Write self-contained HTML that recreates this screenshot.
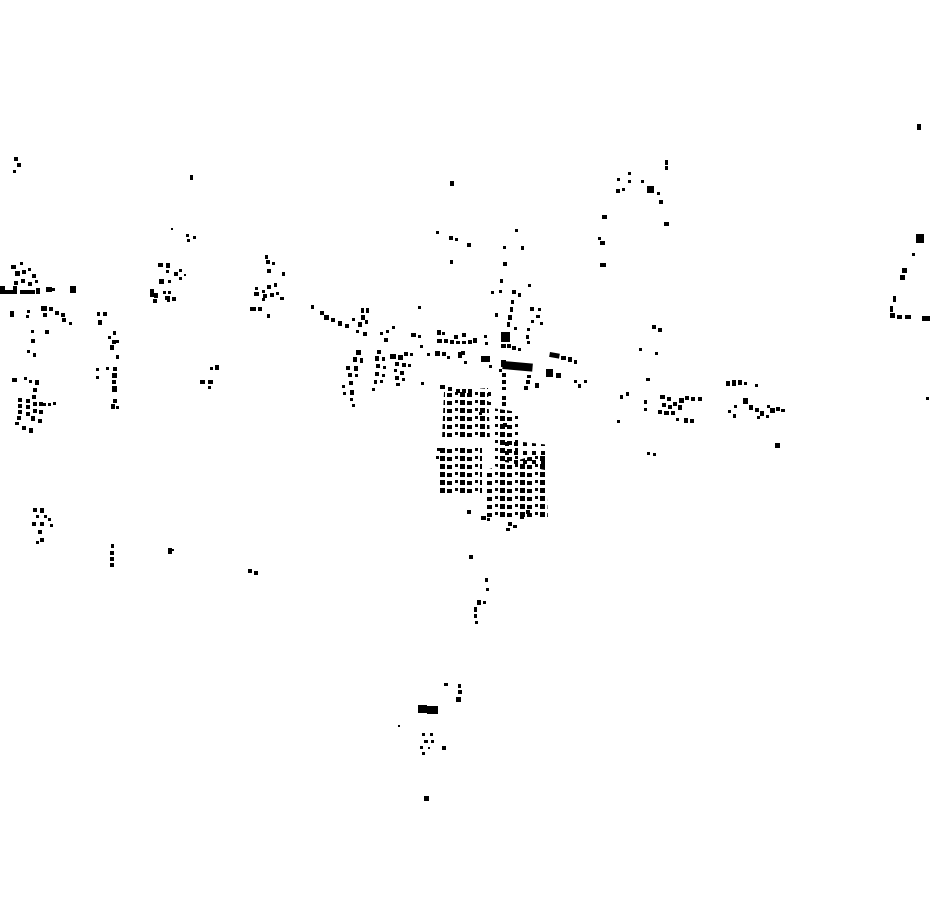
<!DOCTYPE html>
<html><head><meta charset="utf-8"><style>html,body{margin:0;padding:0;background:#fff}svg{display:block}</style></head>
<body>
<svg width="930" height="924" viewBox="0 0 930 924" xmlns="http://www.w3.org/2000/svg">
<defs>
<pattern id="g" width="20" height="8" patternUnits="userSpaceOnUse"><rect x="0" y="0" width="5" height="5" fill="#000"/><rect x="7" y="1" width="5" height="4" fill="#000"/><rect x="15" y="0" width="3" height="3" fill="#000"/></pattern>
<pattern id="g2" width="9" height="9" patternUnits="userSpaceOnUse"><rect x="1" y="1" width="4" height="4" fill="#000"/></pattern>
</defs>
<g fill="url(#g)">
<polygon points="444,392 488,388 490,440 442,440"/>
<polygon points="492,408 518,412 520,470 493,466"/>
<polygon points="438,448 482,446 482,496 440,496"/>
<polygon points="486,470 545,452 548,520 486,520"/>
</g>
<g fill="url(#g2)">
<polygon points="505,440 550,445 545,470 505,462"/>
</g>
<g fill="#000">
<rect x="14" y="157" width="4" height="4"/><rect x="17" y="163" width="4" height="4"/><rect x="13" y="170" width="3" height="3"/>
<rect x="190" y="175" width="3" height="5"/>
<rect x="11" y="265" width="5" height="4"/><rect x="20" y="262" width="3" height="3"/><rect x="15" y="271" width="5" height="5"/><rect x="22" y="270" width="4" height="4"/><rect x="28" y="268" width="3" height="3"/><rect x="32" y="274" width="4" height="4"/><rect x="21" y="279" width="4" height="4"/><rect x="28" y="282" width="4" height="4"/><rect x="35" y="280" width="3" height="3"/><rect x="14" y="281" width="4" height="4"/>
<rect x="0" y="286" width="5" height="8"/><rect x="5" y="290" width="12" height="4"/><rect x="13" y="286" width="4" height="4"/>
<rect x="20" y="290" width="15" height="4"/><rect x="36" y="288" width="4" height="6"/><rect x="46" y="287" width="6" height="5"/><rect x="52" y="288" width="3" height="3"/><rect x="70" y="286" width="6" height="7"/>
<rect x="10" y="311" width="4" height="6"/><rect x="27" y="310" width="3" height="3"/><rect x="26" y="315" width="3" height="3"/><rect x="41" y="306" width="6" height="5"/><rect x="49" y="307" width="4" height="4"/><rect x="43" y="313" width="4" height="4"/><rect x="55" y="311" width="4" height="4"/><rect x="61" y="313" width="4" height="4"/><rect x="62" y="318" width="4" height="4"/><rect x="69" y="322" width="3" height="3"/>
<rect x="31" y="330" width="3" height="3"/><rect x="45" y="330" width="4" height="4"/><rect x="31" y="339" width="4" height="4"/><rect x="27" y="350" width="3" height="3"/><rect x="33" y="353" width="3" height="4"/>
<rect x="12" y="378" width="5" height="4"/><rect x="24" y="377" width="3" height="3"/><rect x="29" y="380" width="3" height="3"/><rect x="35" y="380" width="4" height="5"/><rect x="33" y="388" width="4" height="4"/><rect x="32" y="395" width="4" height="4"/>
<rect x="18" y="398" width="4" height="4"/><rect x="18" y="404" width="4" height="4"/><rect x="18" y="410" width="4" height="4"/><rect x="17" y="416" width="4" height="4"/><rect x="26" y="399" width="4" height="4"/><rect x="26" y="405" width="4" height="4"/><rect x="26" y="412" width="4" height="4"/><rect x="33" y="402" width="4" height="4"/><rect x="33" y="409" width="4" height="4"/><rect x="31" y="416" width="4" height="5"/><rect x="39" y="402" width="4" height="4"/><rect x="39" y="410" width="4" height="4"/><rect x="43" y="403" width="3" height="3"/><rect x="48" y="403" width="3" height="3"/><rect x="53" y="402" width="3" height="3"/><rect x="15" y="422" width="4" height="3"/><rect x="22" y="426" width="4" height="4"/><rect x="29" y="428" width="4" height="5"/><rect x="38" y="419" width="4" height="4"/>
<rect x="97" y="312" width="3" height="4"/><rect x="103" y="312" width="4" height="4"/><rect x="98" y="320" width="4" height="5"/><rect x="113" y="331" width="3" height="4"/><rect x="108" y="336" width="3" height="3"/><rect x="112" y="340" width="4" height="4"/><rect x="116" y="340" width="3" height="3"/><rect x="110" y="345" width="4" height="5"/><rect x="116" y="355" width="3" height="4"/><rect x="96" y="368" width="3" height="3"/><rect x="96" y="376" width="3" height="3"/><rect x="106" y="367" width="3" height="3"/><rect x="113" y="367" width="4" height="4"/><rect x="112" y="373" width="5" height="5"/><rect x="112" y="380" width="4" height="4"/><rect x="112" y="386" width="5" height="6"/><rect x="113" y="399" width="4" height="4"/><rect x="111" y="404" width="4" height="5"/><rect x="116" y="406" width="3" height="3"/>
<rect x="158" y="263" width="5" height="4"/><rect x="166" y="263" width="4" height="5"/><rect x="166" y="270" width="3" height="3"/><rect x="174" y="272" width="4" height="4"/><rect x="179" y="269" width="3" height="3"/><rect x="184" y="274" width="2" height="2"/><rect x="159" y="279" width="5" height="5"/><rect x="168" y="280" width="3" height="3"/><rect x="179" y="277" width="3" height="3"/><rect x="150" y="289" width="4" height="8"/><rect x="154" y="293" width="4" height="5"/><rect x="163" y="291" width="3" height="3"/><rect x="168" y="291" width="3" height="3"/><rect x="165" y="296" width="5" height="4"/><rect x="172" y="297" width="4" height="4"/><rect x="153" y="299" width="4" height="4"/><rect x="167" y="299" width="3" height="3"/>
<rect x="171" y="228" width="2" height="2"/><rect x="186" y="234" width="3" height="3"/><rect x="187" y="239" width="3" height="3"/><rect x="193" y="236" width="3" height="3"/>
<rect x="265" y="255" width="3" height="4"/><rect x="266" y="260" width="4" height="4"/><rect x="272" y="262" width="3" height="3"/><rect x="282" y="272" width="3" height="4"/><rect x="267" y="269" width="4" height="4"/><rect x="274" y="283" width="3" height="4"/><rect x="267" y="285" width="4" height="4"/><rect x="255" y="287" width="3" height="3"/><rect x="254" y="292" width="5" height="4"/><rect x="262" y="290" width="3" height="3"/><rect x="263" y="294" width="4" height="4"/><rect x="270" y="293" width="4" height="4"/><rect x="276" y="292" width="3" height="3"/><rect x="280" y="297" width="4" height="3"/><rect x="262" y="298" width="3" height="3"/><rect x="250" y="307" width="6" height="4"/><rect x="258" y="307" width="4" height="4"/><rect x="267" y="314" width="3" height="4"/>
<rect x="210" y="367" width="3" height="3"/><rect x="215" y="365" width="4" height="5"/><rect x="200" y="380" width="5" height="4"/><rect x="208" y="380" width="5" height="4"/><rect x="208" y="386" width="3" height="3"/>
<rect x="33" y="508" width="4" height="4"/><rect x="40" y="508" width="4" height="5"/><rect x="36" y="515" width="3" height="3"/><rect x="44" y="515" width="3" height="3"/><rect x="48" y="518" width="3" height="3"/><rect x="32" y="522" width="4" height="4"/><rect x="40" y="522" width="4" height="4"/><rect x="50" y="524" width="3" height="3"/><rect x="38" y="530" width="4" height="4"/><rect x="40" y="538" width="4" height="4"/><rect x="36" y="541" width="3" height="3"/>
<rect x="111" y="544" width="3" height="4"/><rect x="110" y="551" width="4" height="4"/><rect x="110" y="557" width="4" height="4"/><rect x="110" y="563" width="4" height="4"/><rect x="168" y="548" width="4" height="6"/><rect x="172" y="549" width="2" height="2"/><rect x="248" y="569" width="4" height="4"/><rect x="254" y="571" width="4" height="4"/>
<rect x="311" y="305" width="3" height="4"/><rect x="320" y="311" width="4" height="4"/><rect x="324" y="315" width="5" height="5"/><rect x="331" y="318" width="4" height="4"/><rect x="338" y="321" width="4" height="5"/><rect x="345" y="324" width="4" height="4"/><rect x="352" y="318" width="3" height="3"/><rect x="361" y="308" width="3" height="5"/><rect x="366" y="308" width="3" height="5"/><rect x="361" y="315" width="4" height="5"/><rect x="358" y="322" width="4" height="5"/><rect x="365" y="320" width="3" height="4"/><rect x="356" y="330" width="3" height="3"/><rect x="363" y="332" width="4" height="4"/><rect x="380" y="332" width="3" height="3"/><rect x="386" y="330" width="3" height="3"/><rect x="392" y="326" width="3" height="3"/><rect x="384" y="338" width="4" height="4"/><rect x="411" y="333" width="5" height="4"/><rect x="418" y="335" width="3" height="3"/><rect x="418" y="306" width="3" height="3"/>
<rect x="356" y="350" width="5" height="5"/><rect x="353" y="357" width="4" height="5"/><rect x="360" y="358" width="3" height="5"/><rect x="346" y="366" width="4" height="4"/><rect x="354" y="366" width="4" height="5"/><rect x="348" y="373" width="4" height="4"/><rect x="355" y="374" width="3" height="3"/><rect x="342" y="385" width="3" height="3"/><rect x="349" y="381" width="4" height="4"/><rect x="343" y="392" width="3" height="3"/><rect x="350" y="390" width="4" height="5"/><rect x="350" y="398" width="3" height="3"/><rect x="352" y="404" width="3" height="3"/>
<rect x="377" y="350" width="4" height="4"/><rect x="375" y="356" width="4" height="5"/><rect x="382" y="357" width="3" height="4"/><rect x="376" y="364" width="4" height="4"/><rect x="383" y="366" width="3" height="3"/><rect x="375" y="372" width="4" height="4"/><rect x="382" y="374" width="3" height="3"/><rect x="374" y="380" width="3" height="4"/><rect x="380" y="380" width="3" height="3"/><rect x="372" y="388" width="3" height="3"/>
<rect x="390" y="354" width="6" height="5"/><rect x="398" y="355" width="5" height="5"/><rect x="404" y="352" width="4" height="4"/><rect x="395" y="362" width="4" height="4"/><rect x="402" y="363" width="4" height="4"/><rect x="394" y="369" width="3" height="3"/><rect x="400" y="371" width="4" height="4"/><rect x="395" y="376" width="4" height="4"/><rect x="402" y="378" width="3" height="3"/><rect x="396" y="383" width="4" height="3"/><rect x="410" y="353" width="3" height="3"/><rect x="408" y="364" width="3" height="3"/><rect x="421" y="382" width="3" height="3"/><rect x="420" y="345" width="3" height="3"/>
<rect x="436" y="231" width="3" height="3"/><rect x="449" y="236" width="4" height="4"/><rect x="455" y="238" width="3" height="3"/><rect x="467" y="243" width="4" height="4"/><rect x="450" y="181" width="4" height="5"/><rect x="450" y="260" width="3" height="4"/><rect x="515" y="229" width="3" height="3"/><rect x="503" y="246" width="3" height="3"/><rect x="521" y="246" width="3" height="4"/><rect x="503" y="262" width="4" height="4"/><rect x="500" y="279" width="3" height="4"/><rect x="491" y="291" width="3" height="3"/><rect x="499" y="290" width="3" height="3"/><rect x="512" y="290" width="4" height="4"/><rect x="518" y="293" width="3" height="4"/><rect x="528" y="284" width="3" height="3"/><rect x="511" y="300" width="3" height="4"/><rect x="510" y="307" width="3" height="5"/><rect x="508" y="315" width="4" height="5"/><rect x="507" y="322" width="3" height="5"/><rect x="495" y="313" width="3" height="4"/><rect x="514" y="327" width="3" height="3"/><rect x="530" y="307" width="4" height="4"/><rect x="538" y="308" width="3" height="3"/><rect x="536" y="315" width="4" height="3"/><rect x="540" y="322" width="3" height="3"/><rect x="531" y="320" width="3" height="3"/><rect x="527" y="328" width="3" height="3"/><rect x="526" y="335" width="3" height="4"/><rect x="527" y="341" width="3" height="3"/>
<rect x="501" y="332" width="9" height="10"/><rect x="501" y="344" width="5" height="4"/><rect x="507" y="344" width="4" height="4"/><rect x="512" y="346" width="4" height="4"/><rect x="518" y="348" width="3" height="3"/>
<rect x="503" y="361" width="30" height="8" transform="rotate(5 503 361)"/><rect x="501" y="360" width="5" height="7"/><rect x="499" y="369" width="3" height="3"/><rect x="502" y="373" width="4" height="4"/><rect x="502" y="380" width="4" height="4"/><rect x="502" y="387" width="4" height="3"/><rect x="502" y="396" width="4" height="4"/><rect x="502" y="402" width="4" height="4"/><rect x="503" y="423" width="4" height="4"/>
<rect x="527" y="375" width="4" height="3"/><rect x="526" y="380" width="4" height="4"/><rect x="524" y="386" width="4" height="4"/><rect x="535" y="383" width="4" height="5"/>
<rect x="550" y="352" width="10" height="5" transform="rotate(10 550 352)"/><rect x="561" y="356" width="5" height="4"/><rect x="568" y="357" width="4" height="5"/><rect x="574" y="360" width="3" height="4"/><rect x="546" y="369" width="7" height="8"/><rect x="556" y="373" width="5" height="5"/><rect x="574" y="380" width="3" height="3"/><rect x="578" y="384" width="3" height="4"/><rect x="584" y="380" width="3" height="3"/>
<rect x="437" y="330" width="4" height="5"/><rect x="442" y="332" width="3" height="3"/><rect x="437" y="339" width="5" height="4"/><rect x="444" y="339" width="4" height="4"/><rect x="450" y="340" width="4" height="4"/><rect x="454" y="335" width="4" height="4"/><rect x="462" y="333" width="4" height="4"/><rect x="456" y="341" width="4" height="3"/><rect x="462" y="341" width="4" height="3"/><rect x="468" y="340" width="4" height="4"/><rect x="473" y="338" width="4" height="5"/><rect x="485" y="342" width="3" height="3"/><rect x="484" y="335" width="3" height="3"/>
<rect x="435" y="351" width="5" height="5"/><rect x="442" y="352" width="4" height="4"/><rect x="447" y="356" width="3" height="3"/><rect x="458" y="352" width="4" height="6"/><rect x="461" y="351" width="4" height="4"/><rect x="464" y="361" width="3" height="3"/><rect x="481" y="356" width="5" height="6"/><rect x="486" y="356" width="4" height="6"/><rect x="489" y="365" width="3" height="3"/><rect x="427" y="353" width="3" height="3"/>
<rect x="440" y="385" width="5" height="4"/><rect x="448" y="387" width="4" height="4"/><rect x="456" y="389" width="4" height="4"/><rect x="462" y="389" width="4" height="4"/><rect x="468" y="389" width="4" height="4"/><rect x="488" y="392" width="3" height="4"/><rect x="488" y="402" width="3" height="3"/><rect x="479" y="412" width="3" height="3"/><rect x="480" y="424" width="3" height="3"/>
<rect x="437" y="448" width="3" height="3"/><rect x="436" y="456" width="3" height="3"/><rect x="467" y="510" width="4" height="4"/><rect x="481" y="516" width="5" height="4"/><rect x="487" y="518" width="3" height="3"/><rect x="508" y="522" width="4" height="4"/><rect x="506" y="528" width="4" height="3"/><rect x="513" y="525" width="4" height="3"/><rect x="520" y="515" width="4" height="4"/><rect x="526" y="510" width="4" height="4"/>
<rect x="617" y="178" width="3" height="3"/><rect x="616" y="189" width="4" height="4"/><rect x="622" y="188" width="3" height="3"/><rect x="628" y="172" width="3" height="3"/><rect x="628" y="180" width="3" height="3"/><rect x="641" y="180" width="3" height="3"/><rect x="647" y="186" width="7" height="7"/><rect x="657" y="192" width="3" height="3"/><rect x="659" y="200" width="4" height="4"/><rect x="665" y="160" width="3" height="5"/><rect x="665" y="166" width="3" height="4"/><rect x="664" y="222" width="5" height="4"/><rect x="602" y="215" width="5" height="4"/><rect x="598" y="237" width="3" height="3"/><rect x="600" y="241" width="5" height="4"/><rect x="600" y="263" width="6" height="4"/>
<rect x="652" y="325" width="4" height="4"/><rect x="658" y="328" width="4" height="4"/><rect x="639" y="348" width="3" height="3"/><rect x="655" y="352" width="3" height="3"/><rect x="646" y="378" width="4" height="3"/><rect x="620" y="395" width="3" height="4"/><rect x="626" y="392" width="3" height="4"/><rect x="644" y="400" width="3" height="4"/><rect x="644" y="408" width="3" height="3"/><rect x="617" y="420" width="3" height="3"/><rect x="647" y="452" width="3" height="3"/><rect x="653" y="453" width="3" height="3"/>
<rect x="660" y="395" width="5" height="4"/><rect x="667" y="397" width="4" height="4"/><rect x="662" y="403" width="4" height="4"/><rect x="668" y="405" width="4" height="4"/><rect x="673" y="402" width="4" height="4"/><rect x="679" y="398" width="5" height="5"/><rect x="685" y="396" width="4" height="4"/><rect x="691" y="397" width="4" height="4"/><rect x="698" y="397" width="4" height="4"/><rect x="658" y="410" width="4" height="4"/><rect x="664" y="411" width="5" height="4"/><rect x="671" y="411" width="4" height="4"/><rect x="678" y="405" width="4" height="5"/><rect x="676" y="418" width="3" height="3"/><rect x="684" y="418" width="4" height="5"/><rect x="690" y="419" width="4" height="4"/>
<rect x="726" y="381" width="4" height="5"/><rect x="732" y="380" width="4" height="6"/><rect x="738" y="380" width="4" height="5"/><rect x="744" y="382" width="3" height="3"/><rect x="755" y="384" width="3" height="3"/><rect x="743" y="398" width="5" height="6"/><rect x="734" y="405" width="3" height="3"/><rect x="728" y="410" width="3" height="3"/><rect x="733" y="414" width="3" height="4"/><rect x="749" y="405" width="4" height="5"/><rect x="755" y="408" width="4" height="4"/><rect x="760" y="411" width="4" height="5"/><rect x="767" y="405" width="3" height="3"/><rect x="770" y="408" width="5" height="5"/><rect x="776" y="407" width="4" height="4"/><rect x="781" y="409" width="4" height="3"/><rect x="757" y="416" width="3" height="3"/><rect x="766" y="415" width="3" height="3"/><rect x="775" y="443" width="5" height="5"/>
<rect x="917" y="124" width="4" height="6"/><rect x="916" y="234" width="8" height="9"/><rect x="912" y="253" width="3" height="3"/><rect x="902" y="268" width="5" height="5"/><rect x="900" y="275" width="5" height="5"/><rect x="893" y="296" width="3" height="6"/><rect x="890" y="306" width="3" height="6"/><rect x="890" y="313" width="5" height="5"/><rect x="897" y="315" width="5" height="4"/><rect x="905" y="315" width="6" height="4"/><rect x="922" y="316" width="8" height="5"/><rect x="926" y="397" width="3" height="3"/>
<rect x="469" y="555" width="4" height="4"/><rect x="485" y="578" width="3" height="4"/><rect x="486" y="588" width="3" height="3"/><rect x="477" y="600" width="4" height="5"/><rect x="483" y="601" width="3" height="3"/><rect x="474" y="607" width="3" height="5"/><rect x="474" y="614" width="3" height="4"/><rect x="475" y="621" width="3" height="3"/>
<rect x="444" y="683" width="4" height="3"/><rect x="458" y="684" width="3" height="4"/><rect x="458" y="690" width="4" height="4"/><rect x="456" y="697" width="5" height="5"/><rect x="418" y="705" width="9" height="8"/><rect x="427" y="706" width="11" height="8"/><rect x="398" y="725" width="2" height="2"/><rect x="422" y="733" width="3" height="3"/><rect x="430" y="733" width="3" height="3"/><rect x="424" y="740" width="4" height="3"/><rect x="431" y="740" width="3" height="3"/><rect x="420" y="746" width="3" height="3"/><rect x="428" y="747" width="2" height="2"/><rect x="442" y="746" width="4" height="4"/><rect x="422" y="752" width="3" height="3"/><rect x="424" y="796" width="5" height="5"/>
</g>
</svg>
</body></html>
